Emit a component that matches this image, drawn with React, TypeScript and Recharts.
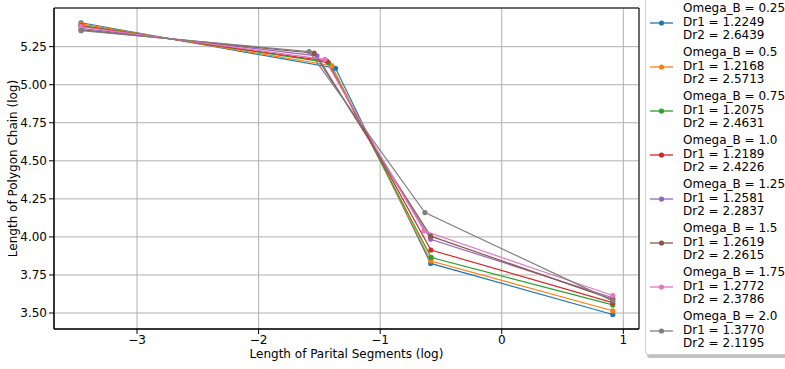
import React from 'react';
import {
  LineChart,
  Line,
  XAxis,
  YAxis,
  CartesianGrid,
  ReferenceArea,
} from 'recharts';

// Omega_B runs and their fitted dimensions
const omegaB = ['0.25', '0.5', '0.75', '1.0', '1.25', '1.5', '1.75', '2.0'];
const dr1 = ['1.2249', '1.2168', '1.2075', '1.2189', '1.2581', '1.2619', '1.2772', '1.3770'];
const dr2 = ['2.6439', '2.5713', '2.4631', '2.4226', '2.2837', '2.2615', '2.3786', '2.1195'];

// log segment length per run
const segmentLog: number[][] = [
  [-3.46, -1.367, -0.585, 0.913],
  [-3.46, -1.398, -0.583, 0.913],
  [-3.46, -1.425, -0.580, 0.913],
  [-3.46, -1.44, -0.583, 0.913],
  [-3.46, -1.52, -0.585, 0.913],
  [-3.46, -1.543, -0.585, 0.913],
  [-3.46, -1.455, -0.64, 0.913],
  [-3.46, -1.584, -0.632, 0.913],
];

// log chain length per run
const chainLog: number[][] = [
  [5.407, 5.108, 3.826, 3.49],
  [5.4, 5.125, 3.842, 3.515],
  [5.39, 5.145, 3.865, 3.553],
  [5.385, 5.155, 3.914, 3.568],
  [5.37, 5.19, 3.985, 3.6],
  [5.36, 5.207, 4.005, 3.59],
  [5.381, 5.167, 4.04, 3.615],
  [5.355, 5.218, 4.16, 3.58],
];

const xTicks = [-3, -2, -1, 0, 1];
const yTicks = [3.5, 3.75, 4.0, 4.25, 4.5, 4.75, 5.0, 5.25];

const COLORS = ['#1f77b4', '#ff7f0e', '#2ca02c', '#d62728', '#9467bd', '#8c564b', '#e377c2', '#7f7f7f'];

const X_DOMAIN: [number, number] = [-3.683, 1.129];
const Y_DOMAIN: [number, number] = [3.395, 5.504];
const FONT = '"DejaVu Sans", sans-serif';
const FS = 12;

const series = omegaB.map((_, i) =>
  segmentLog[i].map((x, j) => ({ x, y: chainLog[i][j] }))
);

const fmtX = (v: number) => (v < 0 ? `\u2212${Math.abs(v)}` : `${v}`);

const LegendBox: React.FC = () => (
  <div
    style={{
      position: 'absolute',
      left: 645,
      top: -6,
      width: 160,
      padding: '7px 0 3px 4px',
      border: '1px solid #cfcfcf',
      borderRadius: 3,
      background: '#fff',
      boxShadow: '2px 3px 1px rgba(0,0,0,0.25)',
      fontFamily: FONT,
      fontSize: FS,
      color: '#000',
    }}
  >
    {omegaB.map((ob, i) => (
      <div key={ob} style={{ display: 'flex', alignItems: 'center', height: 41, marginBottom: i < omegaB.length - 1 ? 3 : 0 }}>
        <svg width={23} height={8} style={{ flex: 'none' }}>
          <line x1={0} y1={4} x2={23} y2={4} stroke={COLORS[i]} strokeWidth={1.3} />
          <circle cx={11.5} cy={4} r={2.6} fill={COLORS[i]} />
        </svg>
        <div style={{ marginLeft: 10, lineHeight: '13.7px', whiteSpace: 'nowrap' }}>
          <div>Omega_B = {ob}</div>
          <div>Dr1 = {dr1[i]}</div>
          <div>Dr2 = {dr2[i]}</div>
        </div>
      </div>
    ))}
  </div>
);

const App: React.FC = () => {
  const tickStyle = { fontFamily: FONT, fontSize: FS, fill: '#000' };
  return (
    <div style={{ position: 'fixed', left: 0, top: 0, width: 785, height: 369, overflow: 'hidden', background: '#fff' }}>
      <LineChart width={785} height={369} margin={{ top: 8, right: 146, bottom: 0, left: 0 }}>
        <CartesianGrid stroke="#b0b0b0" strokeWidth={1} />
        <XAxis
          type="number"
          dataKey="x"
          domain={X_DOMAIN}
          ticks={xTicks}
          allowDataOverflow
          tickFormatter={fmtX}
          height={40}
          tick={tickStyle}
          tickLine={{ stroke: '#000' }}
          axisLine={{ stroke: '#000' }}
          tickSize={5}
          tickMargin={1}
          label={{
            value: 'Length of Parital Segments (log)',
            position: 'insideBottom',
            offset: 11,
            style: { fontFamily: FONT, fontSize: FS, fill: '#000' },
          }}
        />
        <YAxis
          type="number"
          domain={Y_DOMAIN}
          ticks={yTicks}
          allowDataOverflow
          tickFormatter={(v: number) => v.toFixed(2)}
          width={54}
          tick={tickStyle}
          tickLine={{ stroke: '#000' }}
          axisLine={{ stroke: '#000' }}
          tickSize={5}
          tickMargin={2}
          label={{
            value: 'Length of Polygon Chain (log)',
            angle: -90,
            position: 'insideLeft',
            offset: 13,
            style: { fontFamily: FONT, fontSize: FS, fill: '#000', textAnchor: 'middle' },
          }}
        />
        <ReferenceArea
          x1={X_DOMAIN[0]}
          x2={X_DOMAIN[1]}
          y1={Y_DOMAIN[0]}
          y2={Y_DOMAIN[1]}
          fill="none"
          stroke="#000"
          strokeWidth={1}
          ifOverflow="visible"
        />
        {series.map((data, i) => (
          <Line
            key={omegaB[i]}
            data={data}
            dataKey="y"
            name={`Omega_B = ${omegaB[i]}`}
            stroke={COLORS[i]}
            strokeWidth={1.2}
            dot={{ r: 2.6, fill: COLORS[i], stroke: COLORS[i], strokeWidth: 0 }}
            activeDot={false}
            isAnimationActive={false}
          />
        ))}
      </LineChart>
      <LegendBox />
    </div>
  );
};

export default App;
